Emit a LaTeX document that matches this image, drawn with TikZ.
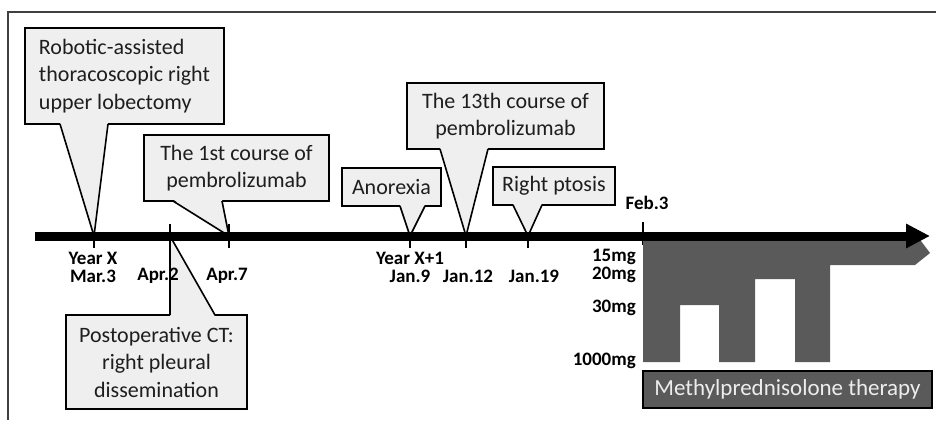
\documentclass[tikz,border=0pt]{standalone}
\usepackage{fontspec}
\setmainfont{Carlito}
\usetikzlibrary{arrows.meta,calc}

\definecolor{callfill}{HTML}{EFEFEF}
\definecolor{dosegray}{HTML}{5A5A5A}
\definecolor{inkgray}{HTML}{1E1E1E}

\begin{document}
\begin{tikzpicture}[x=1pt, y=-1pt,
  call/.style={draw, line width=1.6pt, fill=callfill, inner sep=0pt, outer sep=0pt, text=inkgray, align=center, font=\fontsize{22}{27.5}\selectfont},
  ptr/.style={line width=1.6pt, line join=round},
  tick/.style={line width=2pt},
  date/.style={inner sep=0pt, align=center, font=\fontsize{19}{18}\bfseries\selectfont},
  dose/.style={date, anchor=east}
]
\useasboundingbox (0,0) rectangle (936,420);

% frame
\draw[line width=1.2pt, black!75] (8,420) -- (8,12) -- (936,12);

% points on the time axis
\foreach \n/\x in {mar/94,aprb/170,aprg/229,jana/410,janb/466,janc/528,feb/643} {
  \coordinate (t\n) at (\x,236);
}
\foreach \x in {94,170,229,410,466,528} {
  \draw[tick] (\x,224) -- (\x,248);
}
\draw[tick] (643,222) -- (643,245);

% callouts
\node[call, align=left, minimum width=199pt, minimum height=96pt] (lob) at (124.5,76) {Robotic-assisted\\thoracoscopic right\\upper lobectomy};
\node[call, minimum width=185pt, minimum height=66pt] (first) at (236.5,168) {The 1st course of\\pembrolizumab};
\node[call, minimum width=99pt, minimum height=38pt] (anor) at (391.5,187) {Anorexia};
\node[call, minimum width=197pt, minimum height=66pt] (thirt) at (505.5,116) {The 13th course of\\pembrolizumab};
\node[call, minimum width=122pt, minimum height=38pt] (ptos) at (554,186) {Right ptosis};
\node[call, minimum width=181pt, minimum height=94pt] (ct) at (156.5,362) {Postoperative CT:\\right pleural\\dissemination};

\fill[callfill] ($(lob.south west)+(35,-1.5)$) -- (tmar) -- ($(lob.south west)+(83,-1.5)$) -- cycle;
\draw[ptr] ($(lob.south west)+(35,0)$) -- (tmar) -- ($(lob.south west)+(83,0)$);
\fill[callfill] ($(first.south west)+(29,-1.5)$) -- (taprg) -- ($(first.south west)+(78,-1.5)$) -- cycle;
\draw[ptr] ($(first.south west)+(29,0)$) -- (taprg) -- ($(first.south west)+(78,0)$);
\fill[callfill] ($(anor.south west)+(58,-1.5)$) -- (tjana) -- ($(anor.south west)+(83,-1.5)$) -- cycle;
\draw[ptr] ($(anor.south west)+(58,0)$) -- (tjana) -- ($(anor.south west)+(83,0)$);
\fill[callfill] ($(thirt.south west)+(33,-1.5)$) -- (tjanb) -- ($(thirt.south west)+(81,-1.5)$) -- cycle;
\draw[ptr] ($(thirt.south west)+(33,0)$) -- (tjanb) -- ($(thirt.south west)+(81,0)$);
\fill[callfill] ($(ptos.south west)+(20,-1.5)$) -- (tjanc) -- ($(ptos.south west)+(49,-1.5)$) -- cycle;
\draw[ptr] ($(ptos.south west)+(20,0)$) -- (tjanc) -- ($(ptos.south west)+(49,0)$);
\fill[callfill] ($(ct.north west)+(104,1.5)$) -- (taprb) -- ($(ct.north west)+(149,1.5)$) -- cycle;
\draw[ptr] ($(ct.north west)+(104,0)$) -- (taprb) -- ($(ct.north west)+(149,0)$);

% dates
\node[date] (dmar) at (93,267) {Year X\\Mar.3};
\node[date] (daprb) at (158,276) {Apr.2};
\node[date] (daprg) at (227,276) {Apr.7};
\node[date] (djana) at (410,267) {Year X+1\\Jan.9};
\node[date] (djanb) at (468,276) {Jan.12};
\node[date] (djanc) at (534,276) {Jan.19};
\node[date] (dfeb) at (647,203) {Feb.3};

% steroid doses
\fill[dosegray] (643,241) -- (921,241) -- (930,253) -- (915,265) -- (830,265) -- (830,362)
  -- (795,362) -- (795,279) -- (755,279) -- (755,362) -- (719,362) -- (719,305)
  -- (680,305) -- (680,362) -- (643,362) -- cycle;
\foreach \i/\t/\y in {a/15mg\\20mg/266,c/30mg/308,d/1000mg/361} {
  \node[dose, align=right] (dose\i) at (636,\y) {\t};
}
\node[draw, line width=1.6pt, fill=dosegray, inner sep=0pt, outer sep=0pt, text=white!93!black, minimum width=289pt, minimum height=37pt, font=\fontsize{23}{28}\selectfont] (therapy) at (787.5,389.5) {Methylprednisolone therapy};

% time axis
\draw[line width=9pt, -{Triangle[length=24pt, width=23pt]}] (35,236) -- (930,236);

\end{tikzpicture}
\end{document}
